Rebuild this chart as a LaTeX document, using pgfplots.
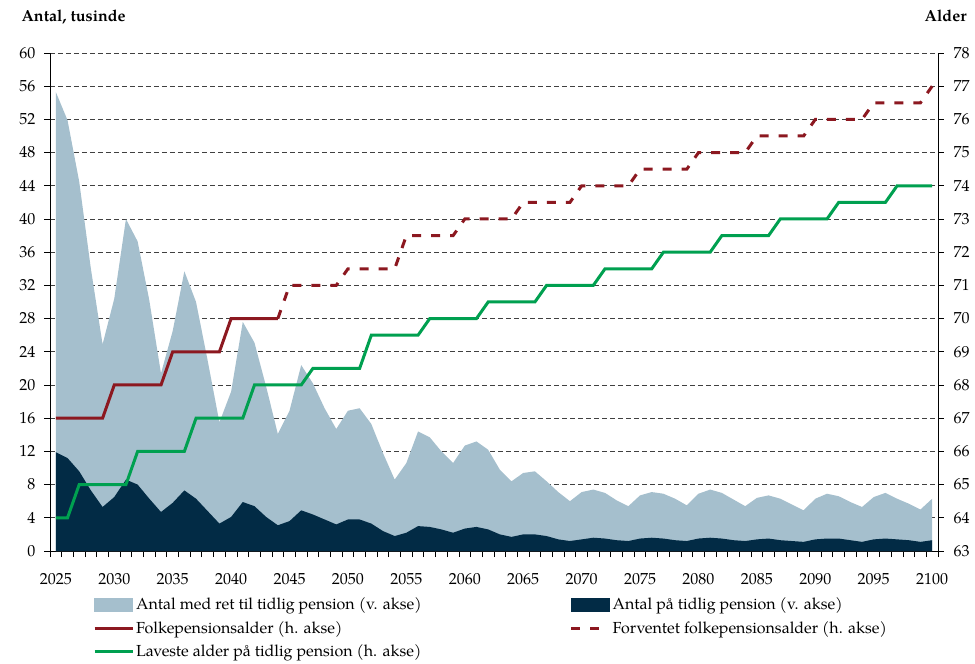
\documentclass[border=0pt]{standalone}
\usepackage{fontspec}
\setmainfont{TeX Gyre Pagella}
\usepackage{pgfplots}
\pgfplotsset{compat=1.18}
\usepackage{pgfplotstable}

\definecolor{lysblaa}{HTML}{A5BFCD}
\definecolor{moerkblaa}{HTML}{022B45}
\definecolor{roed}{HTML}{8C1820}
\definecolor{groen}{HTML}{00A050}
\definecolor{gitter}{HTML}{404040}

% ret = antal med ret, paa = antal paa tidlig pension (tusinde)
% folk, forv, lav = aldre (h. akse)
\pgfplotstableread{
year ret paa folk forv lav
2025 55.3 11.9 67 nan 64
2026 51.9 11.2 67 nan 64
2027 44.5 9.6 67 nan 65
2028 34.0 7.3 67 nan 65
2029 24.9 5.3 67 nan 65
2030 30.4 6.5 68 nan 65
2031 40.0 8.6 68 nan 65
2032 37.3 8.0 68 nan 66
2033 30.2 6.3 68 nan 66
2034 21.4 4.7 68 nan 66
2035 26.5 5.8 69 nan 66
2036 33.7 7.3 69 nan 66
2037 30.0 6.3 69 nan 67
2038 22.9 4.8 69 nan 67
2039 15.5 3.3 69 nan 67
2040 19.2 4.1 70 nan 67
2041 27.6 5.9 70 nan 67
2042 25.1 5.4 70 nan 68
2043 19.8 4.1 70 nan 68
2044 14.1 3.1 70 70 68
2045 16.9 3.6 nan 71 68
2046 22.4 4.9 nan 71 68
2047 20.2 4.4 nan 71 68.5
2048 17.2 3.8 nan 71 68.5
2049 14.7 3.2 nan 71 68.5
2050 16.9 3.8 nan 71.5 68.5
2051 17.2 3.8 nan 71.5 68.5
2052 15.3 3.3 nan 71.5 69.5
2053 11.8 2.4 nan 71.5 69.5
2054 8.6 1.8 nan 71.5 69.5
2055 10.6 2.2 nan 72.5 69.5
2056 14.4 3.0 nan 72.5 69.5
2057 13.7 2.9 nan 72.5 70
2058 12.0 2.6 nan 72.5 70
2059 10.6 2.2 nan 72.5 70
2060 12.7 2.7 nan 73 70
2061 13.2 2.9 nan 73 70
2062 12.2 2.6 nan 73 70.5
2063 9.8 2.0 nan 73 70.5
2064 8.4 1.7 nan 73 70.5
2065 9.4 2.0 nan 73.5 70.5
2066 9.6 2.0 nan 73.5 70.5
2067 8.4 1.8 nan 73.5 71
2068 7.1 1.4 nan 73.5 71
2069 6.0 1.2 nan 73.5 71
2070 7.1 1.4 nan 74 71
2071 7.4 1.6 nan 74 71
2072 7.0 1.5 nan 74 71.5
2073 6.1 1.3 nan 74 71.5
2074 5.4 1.2 nan 74 71.5
2075 6.7 1.5 nan 74.5 71.5
2076 7.1 1.6 nan 74.5 71.5
2077 6.9 1.5 nan 74.5 72
2078 6.3 1.3 nan 74.5 72
2079 5.5 1.2 nan 74.5 72
2080 6.9 1.5 nan 75 72
2081 7.4 1.6 nan 75 72
2082 7.0 1.5 nan 75 72.5
2083 6.2 1.3 nan 75 72.5
2084 5.4 1.2 nan 75 72.5
2085 6.4 1.4 nan 75.5 72.5
2086 6.7 1.5 nan 75.5 72.5
2087 6.3 1.3 nan 75.5 73
2088 5.6 1.2 nan 75.5 73
2089 4.9 1.1 nan 75.5 73
2090 6.3 1.4 nan 76 73
2091 6.9 1.5 nan 76 73
2092 6.6 1.5 nan 76 73.5
2093 5.9 1.3 nan 76 73.5
2094 5.3 1.1 nan 76 73.5
2095 6.5 1.4 nan 76.5 73.5
2096 7.0 1.5 nan 76.5 73.5
2097 6.3 1.4 nan 76.5 74
2098 5.7 1.3 nan 76.5 74
2099 5.0 1.1 nan 76.5 74
2100 6.3 1.3 nan 77 74
}\data

\pgfplotsset{
  faelles/.style={
    width=888pt, height=498pt, scale only axis,
    xmin=2024.5, xmax=2100.5,
    tick label style={font=\fontsize{16}{19}\selectfont},
    /pgf/number format/assume math mode=true,
    /pgf/number format/1000 sep={},
    tick align=outside,
    major tick length=6pt,
    tick style={black, line width=0.8pt},
    axis line style={black, line width=0.8pt},
  }
}

\begin{document}
\begin{tikzpicture}
\useasboundingbox (-50pt,-113pt) rectangle (925pt,551pt);

% venstre akse: arealer
\begin{axis}[faelles,
  axis x line*=bottom, axis y line*=left,
  ymin=0, ymax=60, ytick={0,4,...,60},
  yticklabel style={xshift=-5pt},
  xtick={2024.5,2025.5,...,2100.5}, xticklabels={},
  ymajorgrids=true,
  grid style={gitter, line width=0.9pt, dash pattern=on 5pt off 3pt},
]
\addplot[fill=lysblaa, draw=none] table[x=year, y=ret] {\data} \closedcycle;
\addplot[fill=moerkblaa, draw=none] table[x=year, y=paa] {\data} \closedcycle;
\end{axis}

% aarstal
\begin{axis}[faelles,
  axis x line*=bottom, axis y line=none,
  x axis line style={draw=none},
  ymin=0, ymax=1,
  xtick={2025,2030,...,2100},
  major tick length=0pt,
  xticklabel style={yshift=-19pt},
]
\end{axis}

% hoejre akse: aldre
\begin{axis}[faelles,
  axis y line*=right, axis x line=none,
  ymin=63, ymax=78, ytick={63,64,...,78},
  yticklabel style={xshift=6pt},
  unbounded coords=discard,
  legend columns=2,
  legend cell align=left,
  legend style={at={(0.045,-0.082)}, anchor=north west, draw=none, fill=none,
    font=\fontsize{16}{19}\selectfont,
    nodes={inner xsep=2pt, inner ysep=4pt},
    row sep=2pt,
    /tikz/every even column/.append style={column sep=146pt}},
  legend image code/.code={\draw[#1] (0pt,0pt) -- (38pt,0pt);},
]
\addlegendimage{legend image code/.code={\fill[lysblaa] (0pt,-6pt) rectangle (38pt,7pt);}}
\addlegendentry{Antal med ret til tidlig pension (v. akse)}
\addlegendimage{legend image code/.code={\fill[moerkblaa] (0pt,-6pt) rectangle (38pt,7pt);}}
\addlegendentry{Antal på tidlig pension (v. akse)}
\addplot[roed, line width=3pt] table[x=year, y=folk] {\data};
\addlegendentry{Folkepensionsalder (h. akse)}
\addplot[roed, line width=3pt, dash pattern=on 9pt off 10pt] table[x=year, y=forv] {\data};
\addlegendentry{Forventet folkepensionsalder (h. akse)}
\addplot[groen, line width=3pt] table[x=year, y=lav] {\data};
\addlegendentry{Laveste alder på tidlig pension (h. akse)}
\end{axis}

\node[anchor=base west, font=\fontsize{16}{19}\selectfont\bfseries] at (-32pt,529pt) {Antal, tusinde};
\node[anchor=base east, font=\fontsize{16}{19}\selectfont\bfseries] at (920pt,529pt) {Alder};
\end{tikzpicture}
\end{document}
